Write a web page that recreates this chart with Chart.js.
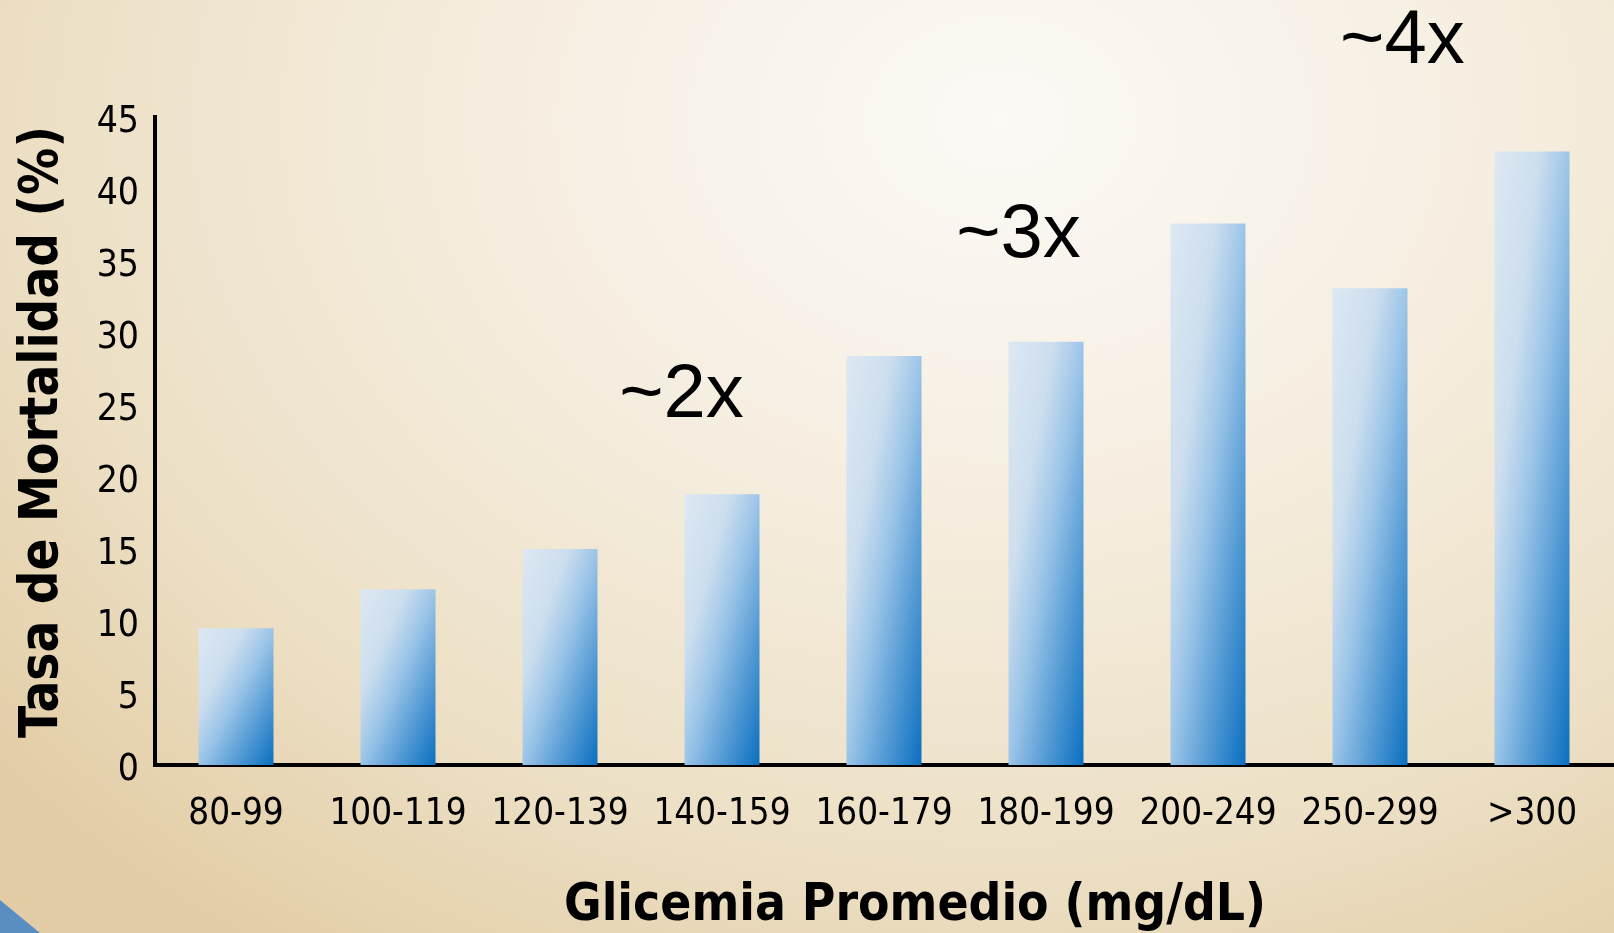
<!DOCTYPE html>
<html>
<head>
<meta charset="utf-8">
<script src="https://cdn.jsdelivr.net/npm/chart.js@4.4.1/dist/chart.umd.min.js"></script>
<style>
  html, body { margin: 0; padding: 0; overflow: hidden; }
  #wrap {
    position: relative;
    width: 1614px;
    height: 933px;
    background: radial-gradient(ellipse 1300px 1000px at 1000px 120px,
      #fcfaf6 0%, #f6efe2 35%, #ecdfc4 75%, #e3cda6 100%);
  }
  #corner {
    position: absolute; left: 0; bottom: 0; width: 40px; height: 33px;
    background: #5a8ec3;
    clip-path: polygon(0 0, 100% 100%, 0 100%);
  }
  canvas { position: absolute; left: 0; top: 0; }
</style>
</head>
<body>
<div id="wrap">
  <canvas id="chart" width="1614" height="933"></canvas>
  <div id="corner"></div>
</div>
<script>
// Glucose ranges (mg/dL) and mortality rate (%) per range
const categories = ['80-99', '100-119', '120-139', '140-159', '160-179', '180-199', '200-249', '250-299', '>300'];
const mortality = [9.5, 12.2, 15.0, 18.8, 28.4, 29.4, 37.6, 33.1, 42.6];
const yTicks = [0, 5, 10, 15, 20, 25, 30, 35, 40, 45];

// Ratio callouts: text, position in category units, baseline in % units
const calloutText = ['~2x', '~3x', '~4x'];
const calloutX = [2.75, 4.83, 7.2];
const calloutY = [24.2, 35.3, 48.75];

const xTitle = 'Glicemia Promedio (mg/dL)';
const yTitle = 'Tasa de Mortalidad (%)';

const FAMILY = "'DejaVu Sans Condensed', 'DejaVu Sans', sans-serif";
const BAR_PCT = 0.463;

// Diagonal light-to-blue fill, scaled to each bar's own rectangle
function barGradient(ctx) {
  const chart = ctx.chart;
  const area = chart.chartArea;
  if (!area || ctx.type !== 'data') return '#5a9ad4';
  const xs = chart.scales.x, ys = chart.scales.y;
  const cw = area.width / categories.length;
  const w = cw * BAR_PCT;
  const cx = xs.getPixelForValue(ctx.dataIndex);
  const left = cx - w / 2;
  const top = ys.getPixelForValue(ctx.raw);
  const h = ys.getPixelForValue(0) - top;
  const k = (2 * w * h) / (h * h + w * w);
  const g = chart.ctx.createLinearGradient(left, top, left + h * k, top + w * k);
  g.addColorStop(0, '#dde8f3');
  g.addColorStop(0.3, '#cddeee');
  g.addColorStop(0.5, '#9cc5e8');
  g.addColorStop(0.75, '#5199d4');
  g.addColorStop(1, '#0a6fc0');
  return g;
}

// Callouts and the two axis titles
const overlayText = {
  id: 'overlayText',
  afterDraw(chart) {
    const c = chart.ctx;
    const xs = chart.scales.x, ys = chart.scales.y;
    c.save();
    c.fillStyle = '#000';
    c.textAlign = 'center';
    c.textBaseline = 'alphabetic';
    c.font = "76px 'Liberation Sans', Arial, sans-serif";
    calloutText.forEach((t, i) => {
      c.fillText(t, xs.getPixelForValue(calloutX[i]), ys.getPixelForValue(calloutY[i]));
    });
    c.font = 'bold 51px ' + FAMILY;
    c.fillText(xTitle, 915, 920);

    c.translate(43, 432);
    c.rotate(-Math.PI / 2);
    c.textBaseline = 'middle';
    c.font = 'bold 52.5px ' + FAMILY;
    c.fillText(yTitle, 0, 0);
    c.restore();
  }
};

new Chart(document.getElementById('chart'), {
  type: 'bar',
  data: {
    labels: categories,
    datasets: [{
      data: mortality,
      backgroundColor: barGradient,
      borderWidth: 0,
      barPercentage: BAR_PCT,
      categoryPercentage: 1
    }]
  },
  options: {
    responsive: false,
    animation: false,
    events: [],
    layout: { padding: { top: 117, right: 1, left: 0, bottom: 0 } },
    plugins: {
      legend: { display: false },
      tooltip: { enabled: false }
    },
    scales: {
      x: {
        grid: { display: false },
        border: { display: true, color: '#000', width: 4 },
        ticks: {
          color: '#000',
          padding: 20,
          font: { family: FAMILY, size: 36.5 }
        },
        afterFit(scale) { scale.height = 168; }
      },
      y: {
        min: 0,
        max: 45,
        grid: { display: false },
        border: { display: true, color: '#000', width: 4 },
        afterBuildTicks(scale) { scale.ticks = yTicks.map(v => ({ value: v })); },
        ticks: {
          color: '#000',
          padding: 8,
          labelOffset: 5,
          font: { family: FAMILY, size: 37 }
        },
        afterFit(scale) { scale.width = 155; }
      }
    }
  },
  plugins: [overlayText]
});
</script>
</body>
</html>
